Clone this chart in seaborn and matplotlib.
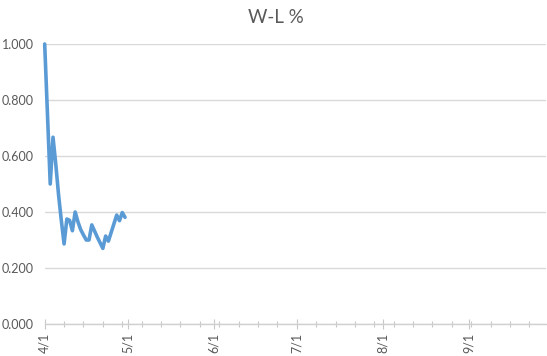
import matplotlib
matplotlib.use("Agg")
import matplotlib.pyplot as plt
import matplotlib.dates as mdates
import seaborn as sns
import pandas as pd

dates = ["2021-04-01", "2021-04-03", "2021-04-04", "2021-04-05", "2021-04-06",
         "2021-04-07", "2021-04-08", "2021-04-09", "2021-04-10", "2021-04-11",
         "2021-04-12", "2021-04-13", "2021-04-14", "2021-04-15", "2021-04-16",
         "2021-04-17", "2021-04-18", "2021-04-19", "2021-04-20", "2021-04-21",
         "2021-04-22", "2021-04-23", "2021-04-24", "2021-04-25", "2021-04-26",
         "2021-04-27", "2021-04-28", "2021-04-29", "2021-04-30"]
wl_pct = [1.000, 0.500, 0.667, 0.571, 0.462,
          0.370, 0.286, 0.375, 0.370, 0.333,
          0.400, 0.365, 0.337, 0.318, 0.300,
          0.300, 0.354, 0.332, 0.310, 0.290,
          0.270, 0.314, 0.296, 0.327, 0.358,
          0.389, 0.369, 0.398, 0.381]
y_ticks = [0.0, 0.2, 0.4, 0.6, 0.8, 1.0]
x_tick_dates = ["2021-04-01", "2021-05-01", "2021-06-01", "2021-07-01", "2021-08-01", "2021-09-01"]
x_tick_labels = ["4/1", "5/1", "6/1", "7/1", "8/1", "9/1"]
title = "W-L %"

sns.set_theme(style="white")
plt.rcParams["font.family"] = ["Lato", "DejaVu Sans"]

df = pd.DataFrame({"date": pd.to_datetime(dates), "wl": wl_pct})

fig = plt.figure(figsize=(5.47, 3.56), dpi=100)
ax = fig.add_axes([0.0817, 0.0899, 0.9166, 0.7865])

sns.lineplot(data=df, x="date", y="wl", ax=ax, color="#5B9BD5", linewidth=2.6,
             clip_on=False, solid_joinstyle="round")

ax.set_ylim(0, 1.0)
ax.set_yticks(y_ticks)
ax.set_yticklabels([f"{v:.3f}" for v in y_ticks])
start = pd.Timestamp("2021-04-01")
ax.set_xlim(start, start + pd.Timedelta(days=181))
ax.set_xticks(pd.to_datetime(x_tick_dates))
ax.set_xticklabels(x_tick_labels, rotation=90)
minor = pd.date_range(start, start + pd.Timedelta(days=181), freq="7D")
ax.set_xticks(minor, minor=True)

ax.grid(axis="y", color="#D9D9D9", linewidth=1.0)
ax.set_axisbelow(True)
for s in ["left", "right", "top"]:
    ax.spines[s].set_visible(False)
ax.spines["bottom"].set_color("#D0D0D0")
ax.spines["bottom"].set_linewidth(1.0)

ax.tick_params(axis="y", length=0, labelsize=9, labelcolor="#595959", pad=8)
ax.tick_params(axis="x", which="major", direction="inout", length=7, width=0.8,
               color="#C8C8C8", labelsize=9, labelcolor="#595959", pad=3, bottom=True)
ax.tick_params(axis="x", which="minor", direction="inout", length=5, width=0.8,
               color="#C8C8C8", bottom=True)
ax.set_xlabel("")
ax.set_ylabel("")
fig.suptitle(title, x=0.505, y=0.975, fontsize=13.5, color="#595959")

fig.savefig("out.png", dpi=100)
